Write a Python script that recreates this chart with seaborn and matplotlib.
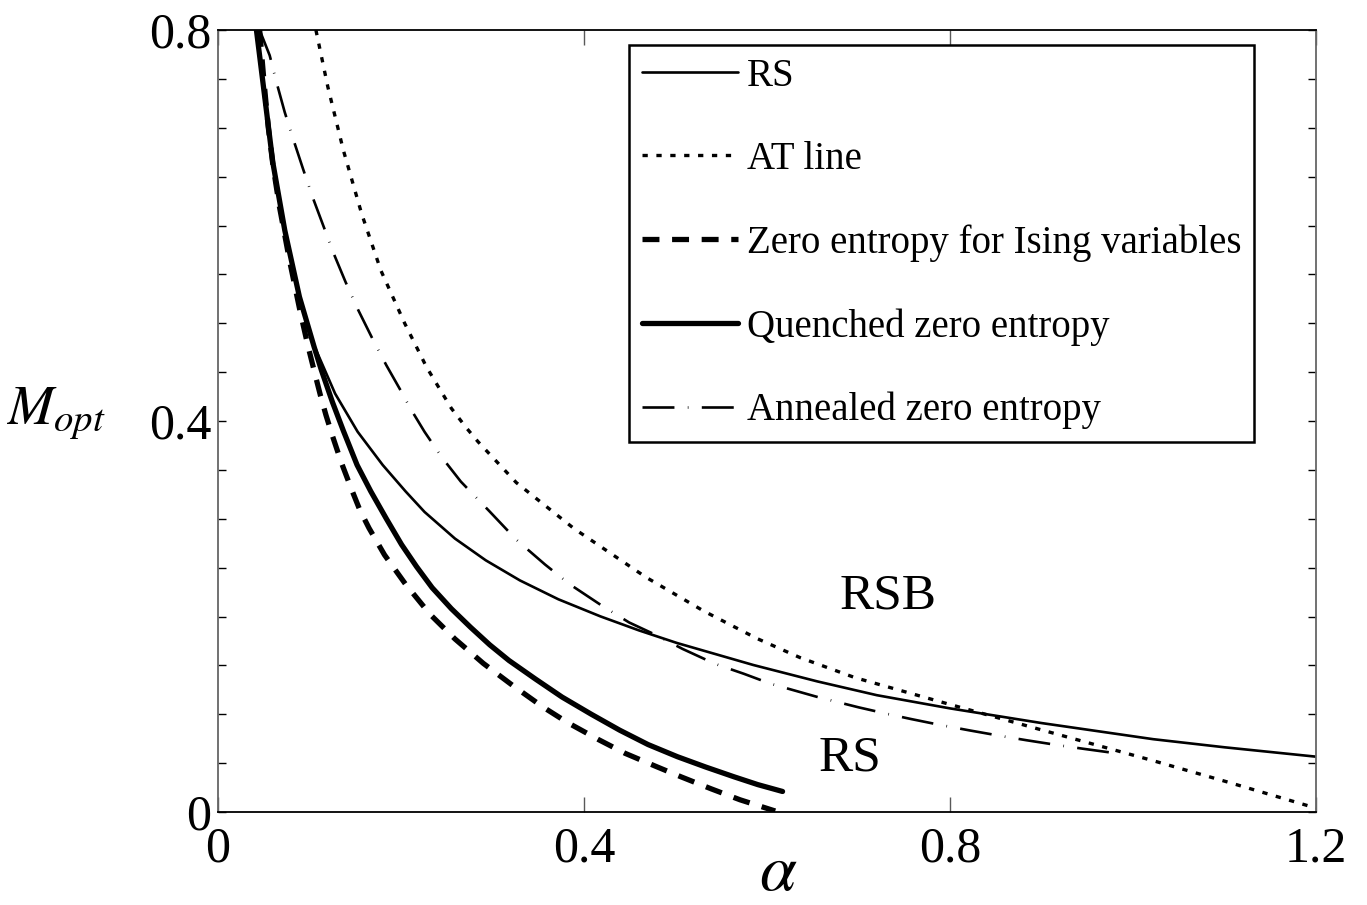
import numpy as np
import matplotlib
matplotlib.use("Agg")
import matplotlib.pyplot as plt
import seaborn as sns

# Curves: alpha on x, M_opt on y
rs_alpha = [0.042, 0.051, 0.060, 0.073, 0.089, 0.1056, 0.128, 0.1526, 0.180, 0.205,
            0.2257, 0.259, 0.2926, 0.330, 0.372, 0.418, 0.460, 0.5016, 0.585, 0.655,
            0.720, 0.800, 0.900, 1.022, 1.100, 1.200]
rs_m = [0.800, 0.732, 0.664, 0.595, 0.527, 0.476, 0.428, 0.389, 0.355, 0.328,
        0.307, 0.2797, 0.2575, 0.2369, 0.2176, 0.2001, 0.1858, 0.1729, 0.1504, 0.1336,
        0.1195, 0.106, 0.091, 0.0745, 0.0662, 0.0566]

at_alpha = [0.107, 0.120, 0.137, 0.157, 0.178, 0.204, 0.228, 0.255, 0.271, 0.284,
            0.326, 0.389, 0.468, 0.531, 0.589, 0.636, 0.696, 0.800, 0.900, 1.022,
            1.104, 1.200]
at_m = [0.800, 0.742, 0.677, 0.612, 0.554, 0.500, 0.455, 0.413, 0.3935, 0.379,
        0.337, 0.290, 0.240, 0.2055, 0.1775, 0.158, 0.1375, 0.110, 0.084, 0.0525,
        0.0305, 0.004]

ising_alpha = [0.0455, 0.050, 0.055, 0.060, 0.067, 0.078, 0.090, 0.098, 0.106, 0.112,
               0.118, 0.125, 0.135, 0.146, 0.155, 0.165, 0.182, 0.205, 0.232, 0.259,
               0.290, 0.322, 0.355, 0.382, 0.416, 0.445, 0.479, 0.506, 0.539, 0.5705,
               0.609]
ising_m = [0.800, 0.750, 0.700, 0.662, 0.620, 0.565, 0.511, 0.478, 0.448, 0.426,
           0.406, 0.385, 0.357, 0.330, 0.309, 0.2905, 0.263, 0.233, 0.202, 0.177,
           0.152, 0.1295, 0.1075, 0.0915, 0.074, 0.060, 0.0465, 0.036, 0.0237, 0.0125,
           0.001]

quenched_alpha = [0.042, 0.051, 0.060, 0.073, 0.089, 0.105, 0.113, 0.125, 0.137, 0.152,
                  0.167, 0.184, 0.2006, 0.217, 0.234, 0.255, 0.276, 0.297, 0.318, 0.347,
                  0.376, 0.408, 0.439, 0.470, 0.502, 0.533, 0.564, 0.590, 0.617]
quenched_m = [0.800, 0.732, 0.664, 0.595, 0.527, 0.476, 0.452, 0.4195, 0.390, 0.355,
              0.328, 0.300, 0.2736, 0.251, 0.2295, 0.208, 0.189, 0.171, 0.155, 0.136,
              0.1176, 0.100, 0.0837, 0.069, 0.0566, 0.046, 0.036, 0.028, 0.021]

annealed_alpha = [0.0455, 0.0565, 0.0638, 0.0729, 0.082, 0.0929, 0.1038, 0.1158, 0.1257, 0.1395,
                  0.153, 0.1705, 0.184, 0.2022, 0.2095, 0.2257, 0.2445, 0.2654, 0.2968, 0.326,
                  0.3574, 0.3845, 0.420, 0.4493, 0.4765, 0.5078, 0.5434, 0.5747, 0.604, 0.6554,
                  0.700, 0.7327, 0.758, 0.789, 0.8224, 0.8592, 0.8837, 0.920, 0.947, 0.9776]
annealed_m = [0.800, 0.774, 0.747, 0.716, 0.689, 0.658, 0.628, 0.598, 0.573, 0.542,
              0.514, 0.481, 0.457, 0.427, 0.414, 0.389, 0.363, 0.338, 0.3075, 0.2786,
              0.2532, 0.2329, 0.2108, 0.1939, 0.182, 0.1668, 0.1515, 0.1414, 0.1312, 0.1176,
              0.1071, 0.1001, 0.095, 0.0891, 0.0833, 0.0772, 0.0734, 0.0681, 0.0645, 0.0606]

region_labels = ["RSB", "RS"]
region_alpha = [0.732, 0.691]
region_m = [0.221, 0.055]

x_ticks = [0, 0.4, 0.8, 1.2]
x_tick_labels = ["0", "0.4", "0.8", "1.2"]
y_ticks = np.round(np.arange(0, 0.8001, 0.05), 2)
y_tick_labels = ["0" if v == 0 else (f"{v:g}" if round(v / 0.4, 6).is_integer() else "")
                 for v in y_ticks]

sns.set_style("white")
plt.rcParams["font.family"] = ["Liberation Serif", "DejaVu Serif"]
plt.rcParams["mathtext.fontset"] = "stix"
plt.rcParams["lines.scale_dashes"] = False
for key in ("text.color", "axes.labelcolor", "xtick.color", "ytick.color"):
    plt.rcParams[key] = "black"

fig = plt.figure(figsize=(13.67, 9.05), dpi=100)
ax = fig.add_axes([218 / 1367, 1 - 812 / 905, 1098 / 1367, 782 / 905])

curves = [
    (rs_alpha, rs_m, "RS", dict(lw=1.9, linestyle="-")),
    (at_alpha, at_m, "AT line", dict(lw=2.4, linestyle=(0, (3.8, 6.2)))),
    (ising_alpha, ising_m, "Zero entropy for Ising variables",
     dict(lw=3.8, linestyle=(0, (12.2, 9.1)))),
    (quenched_alpha, quenched_m, "Quenched zero entropy", dict(lw=3.8, linestyle="-")),
    (annealed_alpha, annealed_m, "Annealed zero entropy",
     dict(lw=1.9, linestyle=(0, (23, 9.6, 0.5, 9.6)))),
]
for xs, ys, name, style in curves:
    sns.lineplot(x=xs, y=ys, ax=ax, color="black", label=name,
                 estimator=None, sort=False, **style)

for label, xa, ym in zip(region_labels, region_alpha, region_m):
    ax.text(xa, ym, label, ha="center", va="center", fontsize=37)

ax.set_xlim(0, 1.2)
ax.set_ylim(0, 0.8)
ax.set_xticks(x_ticks, labels=x_tick_labels)
ax.set_yticks(y_ticks, labels=y_tick_labels)
ax.tick_params(direction="in", bottom=True, left=True, top=True, right=True,
               labelsize=36, width=1, color="black")
ax.tick_params(axis="x", length=11, pad=10, color="0.35")
ax.tick_params(axis="y", length=6, pad=5)

for side, spine in ax.spines.items():
    spine.set_linewidth(1.3)
    spine.set_color("black" if side in ("bottom", "top") else "0.4")

ax.set_xlabel(r"$\alpha$", fontsize=48, va="center", ha="center")
ax.xaxis.set_label_coords(0.510, -0.079)
ax.set_ylabel(r"$M_{opt}$", fontsize=40, rotation=0, ha="center", va="center")
ax.yaxis.set_label_coords(-0.148, 0.509)

leg = ax.legend(loc="upper right", bbox_to_anchor=(0.9435, 0.981), borderaxespad=0,
                fontsize=28, handlelength=2.47, handletextpad=0.23, borderpad=0.33,
                labelspacing=1.19, frameon=True, fancybox=False, framealpha=1,
                edgecolor="black")
leg.get_frame().set_linewidth(1.8)

fig.savefig("out.png", dpi=100)
